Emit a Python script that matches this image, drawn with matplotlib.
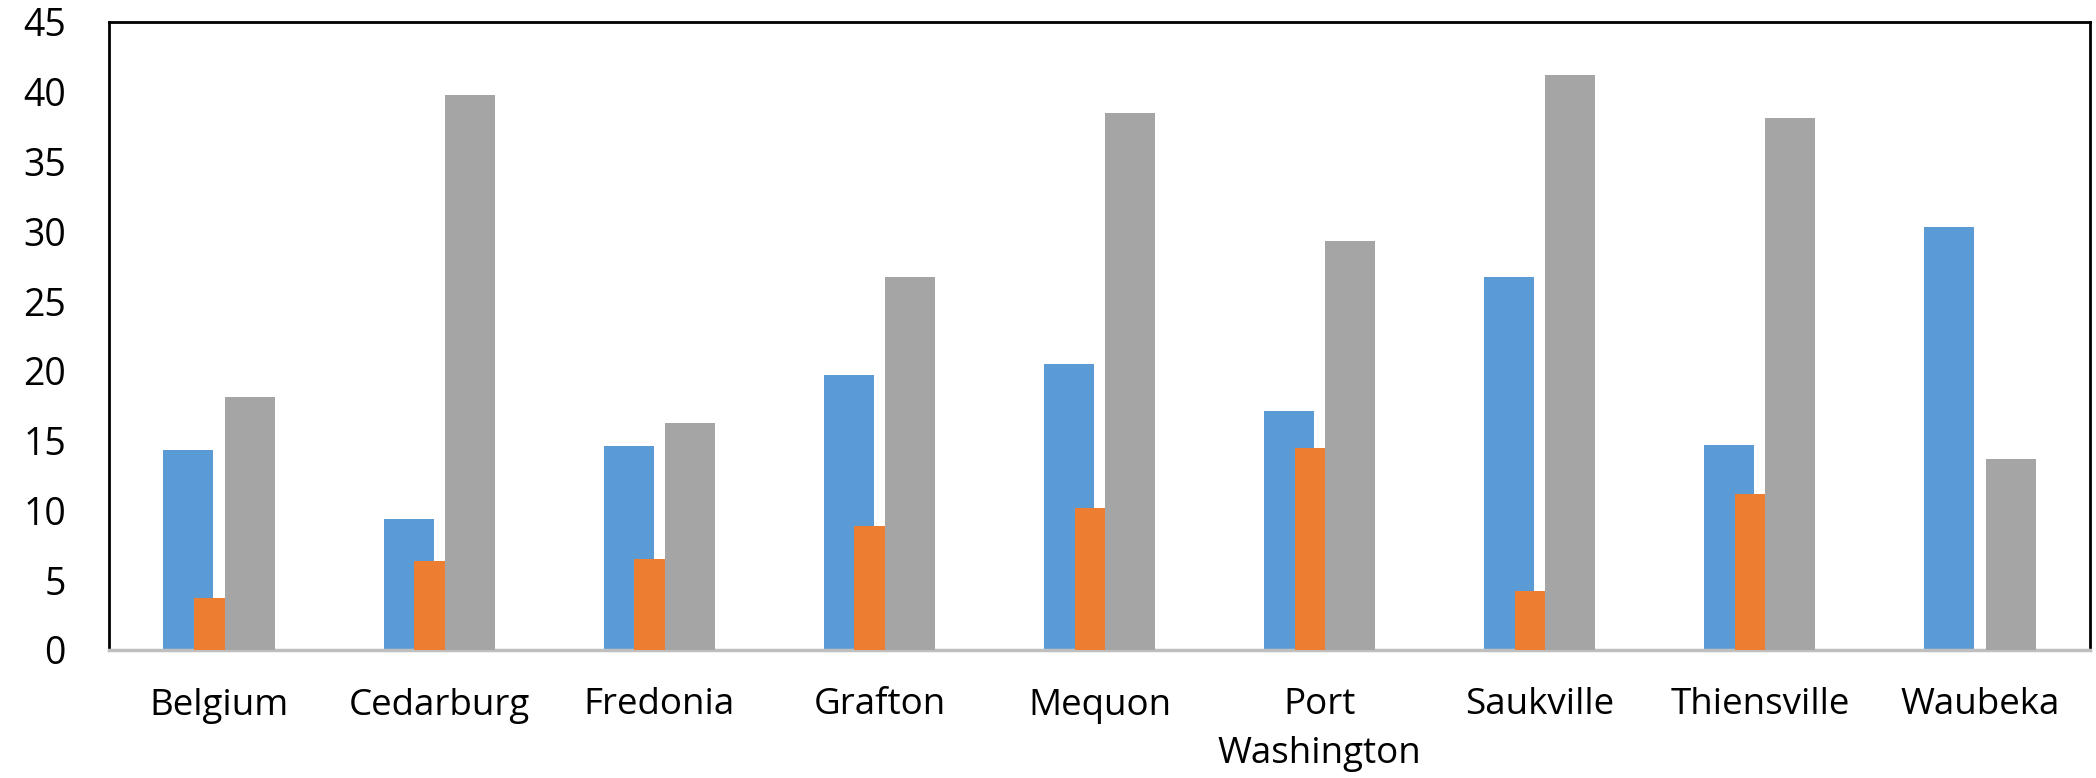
import matplotlib
matplotlib.use("Agg")
import matplotlib.pyplot as plt
import numpy as np

categories = ["Belgium", "Cedarburg", "Fredonia", "Grafton", "Mequon",
              "Port\nWashington", "Saukville", "Thiensville", "Waubeka"]
series_blue = [14.3, 9.4, 14.6, 19.7, 20.5, 17.1, 26.7, 14.7, 30.3]
series_orange = [3.7, 6.4, 6.5, 8.9, 10.2, 14.5, 4.2, 11.2, 0.0]
series_gray = [18.1, 39.8, 16.3, 26.7, 38.5, 29.3, 41.2, 38.1, 13.7]
yticks = [0, 5, 10, 15, 20, 25, 30, 35, 40, 45]

colors = ["#5B9BD5", "#ED7D31", "#A5A5A5"]

plt.rcParams['font.family'] = ['Open Sans', 'DejaVu Sans']

W, H = 2096, 778
fig = plt.figure(figsize=(W / 100, H / 100), dpi=100)
ax = fig.add_axes([109 / W, 1 - 650 / H, (2090 - 109) / W, (650 - 22) / H])

x = np.arange(len(categories))
bw = 0.227
step = 0.139
for i, (vals, c) in enumerate(zip([series_blue, series_orange, series_gray], colors)):
    ax.bar(x + (i - 1) * step, vals, width=bw, color=c, zorder=2 + i,
           edgecolor="none")

ax.set_xlim(-0.5, len(categories) - 0.5)
ax.set_ylim(0, 45)
ax.set_yticks(yticks)
ax.set_yticklabels([str(t) for t in yticks], fontsize=27)
ax.set_xticks(x)
ax.set_xticklabels(categories, fontsize=26.5, linespacing=1.45)
ax.tick_params(axis='y', length=0, pad=31)
ax.tick_params(axis='x', length=0, pad=27)

for s in ["left", "top", "right"]:
    ax.spines[s].set_color("black")
    ax.spines[s].set_linewidth(2)
ax.spines["bottom"].set_color("#BFBFBF")
ax.spines["bottom"].set_linewidth(2.5)

fig.savefig("out.png", dpi=100)
